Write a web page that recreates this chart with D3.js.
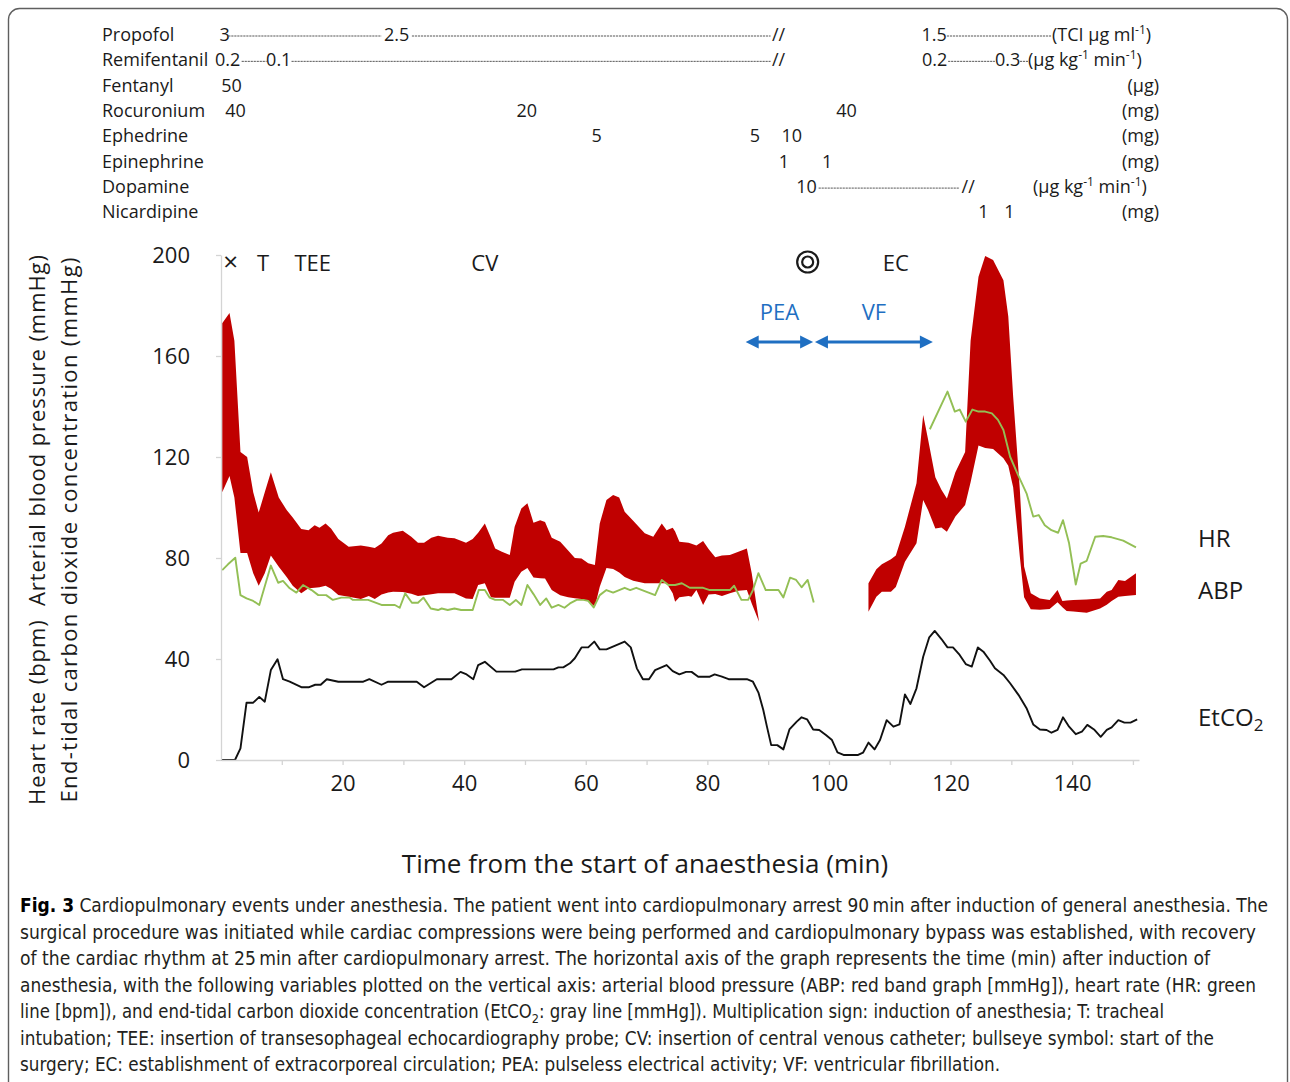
<!DOCTYPE html>
<html>
<head>
<meta charset="utf-8">
<script src="https://cdn.jsdelivr.net/npm/d3@7"></script>
<style>
  body { margin: 0; background: #fff; }
  svg text { font-family: "Open Sans", "Noto Sans", sans-serif; }
</style>
</head>
<body>
<svg id="chart" width="1290" height="1082"></svg>
<script>
// ---- data ----

// drug table
const drugNames = ["Propofol", "Remifentanil", "Fentanyl", "Rocuronium", "Ephedrine", "Epinephrine", "Dopamine", "Nicardipine"];
const drugUnits = ["(TCI \u03bcg ml^-1)", "(\u03bcg kg^-1 min^-1)", "(\u03bcg)", "(mg)", "(mg)", "(mg)", "(\u03bcg kg^-1 min^-1)", "(mg)"];
// [row, time (min), label]
const drugDoses = [
    [0, 0.6, "3"], [0, 28.9, "2.5"], [0, 91.7, "//"], [0, 117.3, "1.5"],
    [1, 1.1, "0.2"], [1, 9.5, "0.1"], [1, 91.7, "//"], [1, 117.4, "0.2"], [1, 129.4, "0.3"],
    [2, 1.75, "50"],
    [3, 2.4, "40"], [3, 50.3, "20"], [3, 102.9, "40"],
    [4, 61.8, "5"], [4, 87.8, "5"], [4, 93.9, "10"],
    [5, 92.6, "1"], [5, 99.7, "1"],
    [6, 96.3, "10"], [6, 122.9, "//"],
    [7, 125.4, "1"], [7, 129.7, "1"]
];
// continuous infusions drawn as dotted runs: [row, from, to]
const drugRuns = [
    [0, 1.2, 26.4], [0, 31.4, 90.4], [0, 119.4, 136.6],
    [1, 3.4, 7.5], [1, 11.6, 90.4], [1, 119.6, 127.3], [1, 131.4, 132.8],
    [6, 98.3, 121.5]
];

// events on top of the chart
const eventMarks = [["\u00d7", 1.6], ["T", 6.9], ["TEE", 15.1], ["CV", 43.4], ["bullseye", 96.5], ["EC", 111.0]];
const rhythmSpans = [["PEA", 86.3, 97.4], ["VF", 97.7, 117.1]];

// arterial blood pressure band: [time, upper, lower]
const abpBeforeArrest = [
    [0.2, 173, 106], [1.4, 177, 112.5], [2.2, 166, 104], [3.2, 122, 82], [4.3, 120, 82],
    [5.3, 106, 74], [6.2, 98, 69], [7.2, 106, 74], [8.2, 114, 81], [9.5, 104, 76.5],
    [10.8, 99, 72.5], [11.8, 96, 69], [13.2, 91.5, 66], [14.4, 91, 68], [15.4, 93, 68.2],
    [16.2, 92, 68.4], [17.2, 93.7, 69], [18.1, 91.7, 67.8], [19.3, 87.5, 65.3], [21, 84.5, 64.7],
    [23, 85, 63.8], [24.3, 84.5, 65], [25.3, 84, 63.8], [26.4, 85.7, 65.5], [27.5, 89, 66.3],
    [28.3, 90, 66.6], [29.9, 90.8, 66.5], [31.3, 88.4, 65.8], [32.4, 86, 65], [33.4, 86, 65.2],
    [34.6, 88, 65.6], [35.7, 88.8, 66], [37.3, 88, 66], [38.4, 87.8, 66], [40.3, 86, 64],
    [41.4, 87.5, 63.8], [42.3, 90, 69.3], [43.4, 93.7, 70], [44.4, 88, 64.5], [45.1, 83.8, 64.3],
    [46.2, 82.5, 64.3], [47.5, 81.2, 64.3], [48.3, 92.4, 70.6], [49.4, 99.6, 74.6], [50.4, 101.7, 76],
    [51.4, 94, 72.3], [52.5, 95, 72], [53.3, 94.3, 71.9], [54.4, 88, 67.3], [55.8, 86.4, 65.2],
    [57.1, 83, 64.5], [58.2, 80, 64.1], [59.3, 79.8, 63.8], [60.4, 77.9, 63], [61.5, 77.2, 60.7],
    [62.3, 93.7, 68.6], [63.4, 103, 76], [64.5, 105, 75.6], [65.5, 104, 74.3], [66.4, 98.3, 72.5],
    [67.8, 94.8, 71], [69.7, 89.8, 70], [71.1, 88.4, 70], [72.5, 93.7, 70], [73.3, 91, 70],
    [74.3, 92, 66], [74.7, 90.5, 62.7], [75.4, 86.4, 64.5], [76.9, 86, 65], [77.4, 85.6, 64.7],
    [78.2, 85, 67.3], [79.3, 86.7, 61.4], [80.2, 83.6, 65.5], [81.3, 80.3, 65.7], [82.4, 81, 65],
    [83.7, 81.2, 66], [85.1, 82.5, 67], [86.5, 83.8, 67.3], [87.3, 74, 62], [88.5, 54.8, 54.8]
];
const abpAfterRecovery = [
    [106.5, 70, 58.7], [107.8, 75.5, 64.7], [108.7, 77.5, 66.6], [110.2, 79.5, 66.6], [111, 81, 68.5],
    [112.5, 92.4, 78.5], [114.4, 109.6, 85.8], [115.5, 136.6, 103], [116.3, 127, 99], [117.5, 112, 91.7],
    [118.5, 107, 92.1], [119.4, 103.6, 90.4], [120.8, 114, 96.4], [122.4, 122, 101], [123.3, 166, 110],
    [124.6, 191.4, 124.6], [125.7, 199.6, 123.6], [127, 198, 123.2], [128.7, 190, 119.5], [129.5, 175.6, 116.5],
    [130.3, 144, 108], [131.4, 107, 80.5], [132.1, 76.6, 64.5], [133.2, 66, 59.7], [134.7, 64, 59.5],
    [136.3, 63.4, 59.8], [137.6, 67.3, 62.5], [138.4, 63, 60.5], [139.1, 63.2, 59], [140.2, 63.4, 58.8],
    [142.4, 63.6, 58.3], [144.6, 64, 60], [145.7, 66.6, 61.5], [146.5, 67.3, 63], [147.6, 71.3, 64.7],
    [148.7, 70.9, 65], [150.5, 74, 65.3]
];

// heart rate: [time, bpm]
const hrBeforeArrest = [
    [0.2, 75.2], [1.15, 77.5], [2.35, 80.1], [3.2, 65.3], [4.2, 64], [5.3, 63], [6.3, 61.4], [8.2, 77],
    [9.4, 70.2], [10.2, 70.9], [11.3, 68], [12.4, 66.3], [13.5, 69.3], [14.9, 67.3], [16, 65.3], [17.3, 65.3],
    [18.4, 63.4], [19.8, 64.3], [21.2, 64.3], [21.7, 63.4], [24.2, 63.4], [26.4, 61.4], [28.6, 61.4], [29.4, 60.3],
    [30.3, 66], [31.4, 62.3], [32.4, 62.3], [33.3, 64.3], [34.5, 60], [35.7, 59.4], [36.3, 60], [37.3, 59.4],
    [38.4, 60], [39.5, 59.4], [41.4, 59.4], [42.4, 67.3], [43.4, 67.3], [44.2, 64.3], [45.1, 63.4], [46.4, 63.4],
    [47.5, 61.4], [48.5, 63.4], [49.4, 61.4], [50.4, 69.3], [51.4, 65.7], [52.5, 61.4], [53.5, 64], [54.4, 60.3],
    [55.5, 61.4], [56.5, 60.3], [57.4, 62], [58.5, 63.4], [59.6, 63.4], [60.4, 63], [61.3, 60.4], [62.3, 65.3],
    [63.4, 67.3], [64.5, 66.3], [66.4, 68.2], [67.3, 67.3], [68.3, 68.2], [71.4, 65.3], [72.5, 71.3], [73.6, 69.3],
    [74.7, 69.3], [75.8, 70], [77.1, 68.2], [79.3, 68.2], [80.4, 67.3], [83.7, 67.3], [84.4, 69], [85.6, 63.4],
    [86.7, 63.4], [87.5, 67.3], [88.4, 74], [89.6, 67.3], [91.7, 67.3], [92.5, 64.4], [93.6, 72.2], [94.6, 71.3],
    [95.5, 68.4], [96.5, 71.3], [97.5, 62.4]
];
const hrAfterRecovery = [
    [116.6, 131], [119.5, 145.9], [120.7, 138], [121.5, 138.8], [122.5, 134], [123.6, 138.8], [124.6, 138],
    [125.7, 138], [126.8, 137.3], [127.8, 134.7], [128.7, 130.7], [129.8, 120.1], [131.1, 112.9], [132.5, 105.6],
    [133.6, 96.4], [134.5, 97], [135.5, 93], [136.6, 91], [137.7, 90], [138.5, 95], [139.5, 85.8], [140.6, 69.5],
    [141.4, 77.8], [142.4, 78.9], [143.8, 88.4], [145.1, 88.7], [146.5, 88.2], [148.4, 86.9], [150.5, 84.2]
];

// end-tidal CO2: [time, mmHg]
const etco2 = [
    [0.1, 0], [2.3, 0], [3.2, 4.6], [4.2, 22.7], [5.3, 22.7], [6.3, 25], [7.2, 23.1], [8.2, 35.6], [9.3, 39.9],
    [10.2, 32], [11.3, 31], [13.3, 28.8], [14.4, 28.8], [15.5, 29.8], [16.4, 29.8], [17.4, 32], [19.3, 31],
    [23.4, 31], [24.4, 32], [26.4, 29.8], [27.5, 31], [32.2, 31], [33.4, 28.8], [35.5, 32], [37.9, 32],
    [39.4, 34.9], [40.4, 33.9], [41.5, 32], [42.3, 37.6], [43.4, 38.9], [45.3, 35], [48.4, 35], [49.5, 35.9],
    [54.7, 35.9], [55.5, 36.7], [56.3, 36.7], [57.4, 38.3], [58.2, 40.3], [59.3, 44.6], [60.4, 44.6], [61.4, 46.9],
    [62.3, 43.8], [63.4, 43.8], [66.4, 46.9], [67.4, 44.6], [68.4, 36.3], [69.4, 32], [70.4, 32], [71.4, 35.6],
    [73.3, 37.6], [74.3, 35.2], [75.4, 33.9], [76.5, 34.9], [77.4, 34.9], [78.5, 33], [80.4, 33], [81.2, 33.9],
    [82.4, 33], [83.5, 32], [86.5, 32], [87.5, 31], [88.4, 26.7], [89.2, 19.8], [89.8, 13.2], [90.5, 5.9],
    [91.5, 5.9], [92.5, 4.2], [93.5, 12.1], [94.7, 15.2], [95.5, 16.9], [96.4, 16.1], [97.4, 12.1], [98.4, 11.9],
    [99.5, 9.9], [100.5, 7.9], [101.4, 3], [102.4, 2], [104.8, 2], [105.6, 2.9], [106.5, 6.9], [107.5, 4.2],
    [108.4, 7.9], [109.5, 15.8], [110.6, 13.2], [111.6, 14.1], [112.5, 26], [113.4, 22.2], [114.4, 28.4],
    [115.5, 40.9], [116.5, 48.6], [117.4, 51.1], [118.5, 47.9], [119.5, 44.6], [120.4, 44.6], [121.5, 41.6],
    [122.5, 38], [123.5, 37], [124.5, 44.6], [125.4, 42.9], [126.5, 39.3], [127.3, 36.3], [128.7, 33.7],
    [129.8, 30.4], [131.2, 25.7], [132.5, 20.5], [133.6, 14.1], [134.7, 12.1], [135.8, 11.9], [136.6, 10.8],
    [137.6, 11.9], [138.5, 16.9], [139.5, 13.2], [140.6, 10.2], [141.6, 11.2], [142.5, 13.9], [143.6, 12.1],
    [144.7, 9.2], [145.7, 11.9], [146.5, 12.9], [147.6, 15.8], [148.6, 14.8], [149.6, 14.8], [150.7, 16.1]
];

const yTicks = [0, 40, 80, 120, 160, 200];
const xTicks = [10, 20, 30, 40, 50, 60, 70, 80, 90, 100, 110, 120, 130, 140, 150];

const captionLines = [
    "Cardiopulmonary events under anesthesia. The patient went into cardiopulmonary arrest 90\u2009min after induction of general anesthesia. The",
    "surgical procedure was initiated while cardiac compressions were being performed and cardiopulmonary bypass was established, with recovery",
    "of the cardiac rhythm at 25\u2009min after cardiopulmonary arrest. The horizontal axis of the graph represents the time (min) after induction of",
    "anesthesia, with the following variables plotted on the vertical axis: arterial blood pressure (ABP: red band graph [mmHg]), heart rate (HR: green",
    "line [bpm]), and end-tidal carbon dioxide concentration (EtCO_2: gray line [mmHg]). Multiplication sign: induction of anesthesia; T: tracheal",
    "intubation; TEE: insertion of transesophageal echocardiography probe; CV: insertion of central venous catheter; bullseye symbol: start of the",
    "surgery; EC: establishment of extracorporeal circulation; PEA: pulseless electrical activity; VF: ventricular fibrillation."
];

// ---- layout ----
const svg = d3.select("#chart");
const x = d3.scaleLinear().domain([0, 151]).range([221, 1139]);
const y = d3.scaleLinear().domain([0, 200]).range([760, 255]);

// rounded frame around the figure
svg.append("rect")
    .attr("x", 8.5).attr("y", 8.5)
    .attr("width", 1279).attr("height", 1100)
    .attr("rx", 11)
    .attr("fill", "none")
    .attr("stroke", "#5f5f5f")
    .attr("stroke-width", 1.4);

// helper: write text containing ^-1 superscripts / _2 subscripts
// the baseline shift is carried over to the next piece of text
function richText(sel, str, small) {
    const parts = str.split(/(\^-1|_2)/).filter(p => p.length);
    let cur = 0;
    parts.forEach(p => {
        let target = 0, txt = p, size = null;
        if (p === "^-1") { target = -7; txt = "-1"; size = small; }
        if (p === "_2") { target = 5; txt = "2"; size = small; }
        const ts = sel.append("tspan").attr("dy", target - cur).text(txt);
        if (size) ts.attr("font-size", size);
        cur = target;
    });
}

// ---- drug table ----
const rowY = i => 41 + i * 25.35;
const table = svg.append("g").attr("font-size", 18).attr("fill", "#1a1a1a");

table.selectAll(".drug-name")
    .data(drugNames)
    .join("text")
    .attr("class", "drug-name")
    .attr("x", 102)
    .attr("y", (d, i) => rowY(i))
    .text(d => d);

table.selectAll(".dose")
    .data(drugDoses)
    .join("text")
    .attr("class", "dose")
    .attr("x", d => x(d[1]))
    .attr("y", d => rowY(d[0]))
    .attr("text-anchor", "middle")
    .text(d => d[2]);

table.selectAll(".run")
    .data(drugRuns)
    .join("line")
    .attr("class", "run")
    .attr("x1", d => x(d[1]))
    .attr("x2", d => x(d[2]))
    .attr("y1", d => rowY(d[0]) - 5)
    .attr("y2", d => rowY(d[0]) - 5)
    .attr("stroke", "#444")
    .attr("stroke-width", 0.9)
    .attr("stroke-dasharray", "2.2,0.8");

// units: infusions start right after their run, boluses are right-aligned
const unitStart = {0: 1052, 1: 1028, 6: 1033};
drugUnits.forEach((u, i) => {
    const t = table.append("text").attr("y", rowY(i));
    if (unitStart[i] !== undefined) {
        t.attr("x", unitStart[i]);
    } else {
        t.attr("x", 1159).attr("text-anchor", "end");
    }
    richText(t, u, 12);
});

// ---- chart body ----
const band = d3.area()
    .x(d => x(d[0]))
    .y0(d => y(d[2]))
    .y1(d => y(d[1]));

const line = d3.line()
    .x(d => x(d[0]))
    .y(d => y(d[1]));

svg.selectAll(".abp")
    .data([abpBeforeArrest, abpAfterRecovery])
    .join("path")
    .attr("class", "abp")
    .attr("d", band)
    .attr("fill", "#c00000");

svg.selectAll(".hr")
    .data([hrBeforeArrest, hrAfterRecovery])
    .join("path")
    .attr("class", "hr")
    .attr("d", line)
    .attr("fill", "none")
    .attr("stroke", "#93bf55")
    .attr("stroke-width", 1.9)
    .attr("stroke-linejoin", "round");

svg.append("path")
    .datum(etco2)
    .attr("d", line)
    .attr("fill", "none")
    .attr("stroke", "#111")
    .attr("stroke-width", 1.9)
    .attr("stroke-linejoin", "round");

// axes
const xAxis = svg.append("g")
    .attr("transform", "translate(0," + y(0) + ")")
    .call(d3.axisBottom(x)
        .tickValues(xTicks)
        .tickSize(5)
        .tickSizeOuter(0)
        .tickPadding(10)
        .tickFormat(d => d % 20 === 0 ? d : ""));

const yAxis = svg.append("g")
    .attr("transform", "translate(" + x(0) + ",0)")
    .call(d3.axisLeft(y)
        .tickValues(yTicks)
        .tickSize(5)
        .tickSizeOuter(0)
        .tickPadding(26));

[xAxis, yAxis].forEach(g => {
    g.select(".domain").attr("stroke", "#d4d4d4").attr("stroke-width", 1.3);
    g.selectAll(".tick line").attr("stroke", "#d4d4d4").attr("stroke-width", 1.3);
    g.selectAll(".tick text")
        .attr("font-family", "'Open Sans', sans-serif")
        .attr("font-size", 22)
        .attr("fill", "#1a1a1a");
});

// event marks along the top
const marks = svg.append("g").attr("font-size", 22).attr("fill", "#1a1a1a");
eventMarks.forEach(([label, t]) => {
    if (label === "bullseye") {
        marks.append("circle").attr("cx", x(t)).attr("cy", 262).attr("r", 10.5)
            .attr("fill", "none").attr("stroke", "#1a1a1a").attr("stroke-width", 2.2);
        marks.append("circle").attr("cx", x(t)).attr("cy", 262).attr("r", 5.5)
            .attr("fill", "none").attr("stroke", "#1a1a1a").attr("stroke-width", 2.2);
    } else {
        marks.append("text")
            .attr("x", x(t))
            .attr("y", 271)
            .attr("text-anchor", "middle")
            .attr("font-size", label === "\u00d7" ? 26 : 22)
            .text(label);
    }
});

// PEA / VF double arrows
const blue = "#1f6fc2";
const arrows = svg.append("g");
rhythmSpans.forEach(([label, t0, t1]) => {
    const x0 = x(t0), x1 = x(t1), yy = 342, head = 13, half = 6.5;
    arrows.append("line")
        .attr("x1", x0 + head - 2).attr("x2", x1 - head + 2)
        .attr("y1", yy).attr("y2", yy)
        .attr("stroke", blue).attr("stroke-width", 3.2);
    arrows.append("path")
        .attr("d", `M${x0},${yy}L${x0 + head},${yy - half}L${x0 + head},${yy + half}Z`)
        .attr("fill", blue);
    arrows.append("path")
        .attr("d", `M${x1},${yy}L${x1 - head},${yy - half}L${x1 - head},${yy + half}Z`)
        .attr("fill", blue);
    arrows.append("text")
        .attr("x", (x0 + x1) / 2)
        .attr("y", 320)
        .attr("text-anchor", "middle")
        .attr("font-size", 22)
        .attr("fill", blue)
        .text(label);
});

// series labels on the right
const seriesLabels = svg.append("g").attr("font-size", 24).attr("fill", "#1a1a1a");
seriesLabels.append("text").attr("x", 1198).attr("y", 547).text("HR");
seriesLabels.append("text").attr("x", 1198).attr("y", 599).text("ABP");
richText(seriesLabels.append("text").attr("x", 1198).attr("y", 726), "EtCO_2", 17);

// axis titles
svg.append("text")
    .attr("transform", "translate(45,530) rotate(-90)")
    .attr("text-anchor", "middle")
    .attr("font-size", 22)
    .attr("fill", "#1a1a1a")
    .style("white-space", "pre")
    .attr("textLength", 550)
    .text("Heart rate (bpm)  Arterial blood pressure (mmHg)");

svg.append("text")
    .attr("transform", "translate(77,530) rotate(-90)")
    .attr("text-anchor", "middle")
    .attr("font-size", 22)
    .attr("fill", "#1a1a1a")
    .attr("textLength", 545)
    .text("End-tidal carbon dioxide concentration (mmHg)");

svg.append("text")
    .attr("x", 645)
    .attr("y", 873)
    .attr("text-anchor", "middle")
    .attr("font-size", 26)
    .attr("fill", "#1a1a1a")
    .text("Time from the start of anaesthesia (min)");

// caption
const captionEnds = [1268, 1256, 1210, 1256, 1164, 1214, 1000];
const caption = svg.append("g")
    .attr("font-size", 19)
    .attr("fill", "#231f20");
captionLines.forEach((str, i) => {
    const t = caption.append("text")
        .attr("x", 20)
        .attr("y", 912 + i * 26.5)
        .attr("textLength", captionEnds[i] - 20)
        .attr("lengthAdjust", "spacingAndGlyphs")
        .style("font-family", "'Liberation Sans Narrow', 'DejaVu Sans Condensed', sans-serif");
    if (i === 0) {
        t.append("tspan").attr("font-weight", "bold").attr("fill", "#000").text("Fig. 3");
        t.append("tspan").text(" ");
    }
    richText(t, str, 13);
});
</script>
</body>
</html>
